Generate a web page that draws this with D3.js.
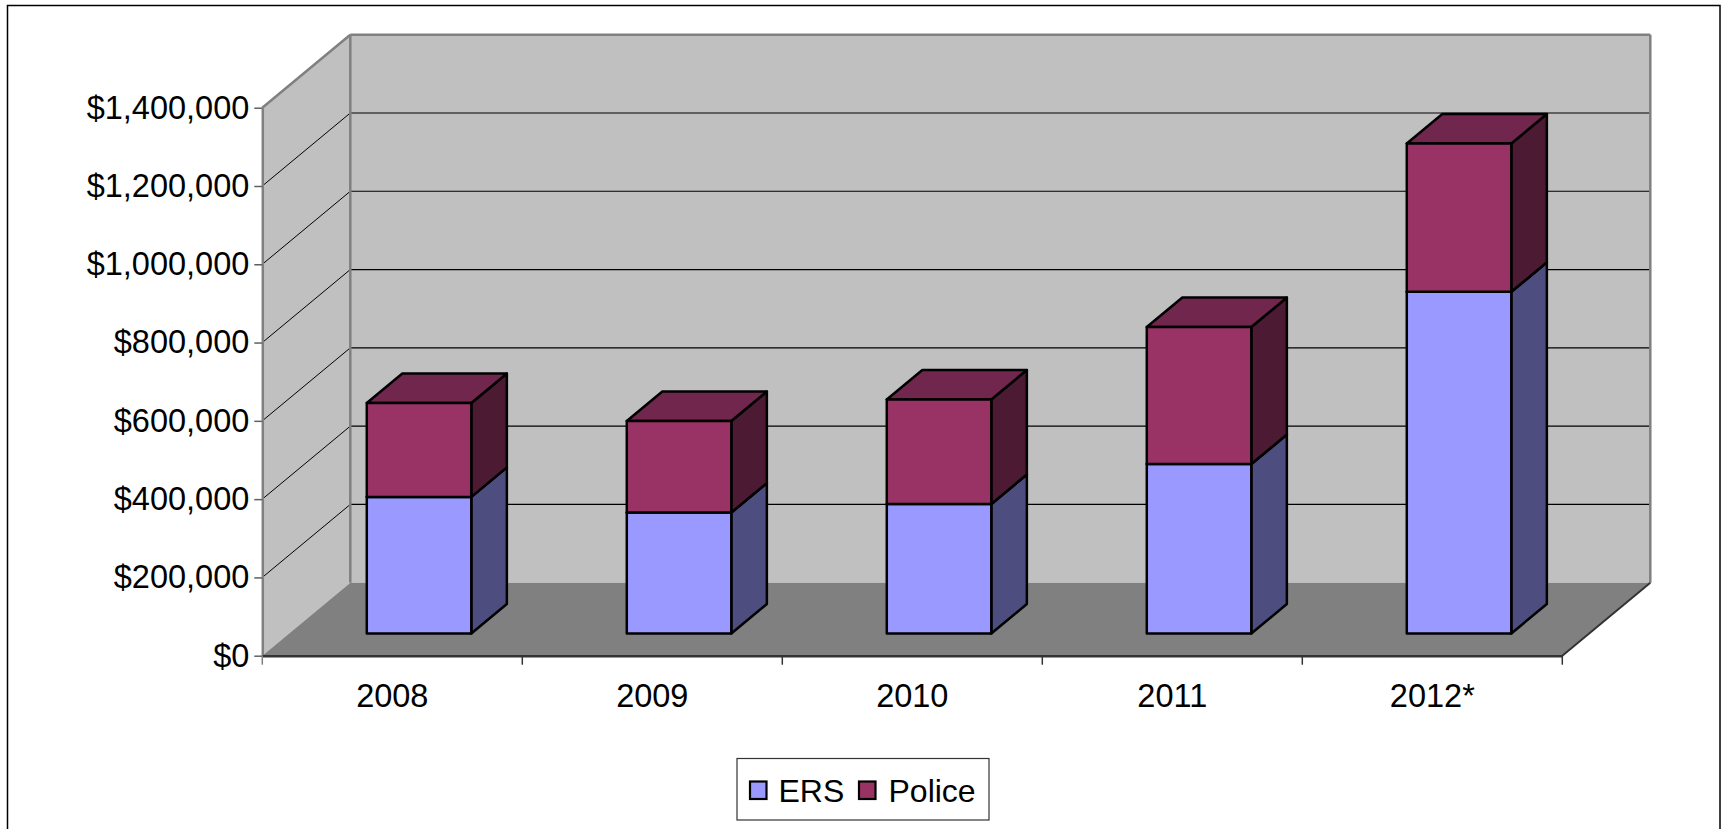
<!DOCTYPE html>
<html>
<head>
<meta charset="utf-8">
<script src="https://cdn.jsdelivr.net/npm/d3@7"></script>
<style>
  html, body { margin: 0; padding: 0; background: #ffffff; }
  svg { display: block; }
  text { font-family: "Liberation Sans", Arial, sans-serif; }
</style>
</head>
<body>
<script>
// ---- Data ----
const categories = ["2008", "2009", "2010", "2011", "2012*"];
const seriesNames = ["ERS", "Police"];
const ersValues = [349000, 309000, 331000, 433000, 873000];
const policeValues = [240000, 234000, 267000, 350000, 379000];
const yTickValues = [0, 200000, 400000, 600000, 800000, 1000000, 1200000, 1400000];

// ---- Layout ----
const W = 1727, H = 829;
const axisLeftX = 262.3, axisRightX = 1562.3;
const baseY = 655.7, topY = 107.7;
const DX = 88, DY = 73;           // depth of the 3D box
const zFront = 0.304, zBack = 0.708;
const barFrac = 0.402;
const axisFont = 32.5;
const legendFont = 32;

const frontColors = ["#9999FF", "#993366"];
const sideColors = ["#4D4D80", "#4D1A33"];
const topColors = ["#7373BF", "#70264D"];

const svg = d3.select("body").append("svg").attr("width", W).attr("height", H);

// outer border
svg.append("rect").attr("x", 7.5).attr("y", 5.5).attr("width", 1712.5).attr("height", 840)
  .attr("fill", "none").attr("stroke", "#000").attr("stroke-width", 1.5);

const x = d3.scaleBand().domain(categories).range([axisLeftX, axisRightX]);
const yMax = yTickValues[yTickValues.length - 1];
const y = d3.scaleLinear().domain([0, yMax]).range([baseY, topY]);
const proj = (px, v, z) => [px + z * DX, y(v) - z * DY];
const poly = pts => pts.map(p => p.join(",")).join(" ");

// walls
const L = axisLeftX, R = axisRightX;
svg.append("polygon")
  .attr("points", poly([proj(L, 0, 0), proj(L, yMax, 0), proj(L, yMax, 1), proj(L, 0, 1)]))
  .attr("fill", "#C0C0C0");
svg.append("polygon")
  .attr("points", poly([proj(L, 0, 1), proj(L, yMax, 1), proj(R, yMax, 1), proj(R, 0, 1)]))
  .attr("fill", "#C0C0C0");

// gridlines
const gridVals = yTickValues.filter(v => v > 0 && v < yMax);
svg.append("g").selectAll("line.back").data(gridVals).join("line")
  .attr("x1", d => proj(L, d, 1)[0]).attr("y1", d => proj(L, d, 1)[1])
  .attr("x2", d => proj(R, d, 1)[0]).attr("y2", d => proj(R, d, 1)[1])
  .attr("stroke", "#000").attr("stroke-width", 1.2);
svg.append("g").selectAll("line.side").data(gridVals).join("line")
  .attr("x1", d => proj(L, d, 0)[0]).attr("y1", d => proj(L, d, 0)[1])
  .attr("x2", d => proj(L, d, 1)[0]).attr("y2", d => proj(L, d, 1)[1])
  .attr("stroke", "#000").attr("stroke-width", 1);

// wall edges
const edge = (a, b, col, w) => svg.append("line")
  .attr("x1", a[0]).attr("y1", a[1]).attr("x2", b[0]).attr("y2", b[1])
  .attr("stroke", col).attr("stroke-width", w);
edge(proj(L, yMax, 0), proj(L, yMax, 1), "#808080", 2.5);
edge(proj(L, yMax, 1), proj(R, yMax, 1), "#808080", 2.5);
edge(proj(R, yMax, 1), proj(R, 0, 1), "#808080", 2.5);
edge(proj(L, yMax, 1), proj(L, 0, 1), "#808080", 2.5);

// floor
svg.append("polygon")
  .attr("points", poly([proj(L, 0, 0), proj(R, 0, 0), proj(R, 0, 1), proj(L, 0, 1)]))
  .attr("fill", "#808080");
edge(proj(R, 0, 0), proj(R, 0, 1), "#333", 2);

// bars
const bw = x.bandwidth();
const w = bw * barFrac;
const barsG = svg.append("g");
categories.forEach((c, i) => {
  const segs = [
    { s: 0, v0: 0, v1: ersValues[i] },
    { s: 1, v0: ersValues[i], v1: ersValues[i] + policeValues[i] }
  ];
  const xl = x(c) + (bw - w) / 2, xr = xl + w;
  segs.forEach(sg => {
    const g = barsG.append("g")
      .attr("stroke", "#000").attr("stroke-width", 2.5).attr("stroke-linejoin", "round");
    g.append("polygon").attr("fill", sideColors[sg.s])
      .attr("points", poly([proj(xr, sg.v0, zFront), proj(xr, sg.v0, zBack), proj(xr, sg.v1, zBack), proj(xr, sg.v1, zFront)]));
    g.append("polygon").attr("fill", topColors[sg.s])
      .attr("points", poly([proj(xl, sg.v1, zFront), proj(xr, sg.v1, zFront), proj(xr, sg.v1, zBack), proj(xl, sg.v1, zBack)]));
    g.append("polygon").attr("fill", frontColors[sg.s])
      .attr("points", poly([proj(xl, sg.v0, zFront), proj(xr, sg.v0, zFront), proj(xr, sg.v1, zFront), proj(xl, sg.v1, zFront)]));
  });
});

// y axis
const yAxis = svg.append("g").attr("transform", `translate(${axisLeftX},0)`)
  .call(d3.axisLeft(y).tickValues(yTickValues).tickFormat(d3.format("$,.0f")).tickSize(8).tickPadding(5).tickSizeOuter(0));
yAxis.select(".domain").attr("stroke", "#808080").attr("stroke-width", 2.5);
yAxis.selectAll(".tick line").attr("stroke", "#606060").attr("stroke-width", 1.5);
yAxis.selectAll(".tick text").attr("font-size", axisFont).attr("fill", "#000")
  .style("font-family", '"Liberation Sans", Arial, sans-serif');

// x axis
const xAxis = svg.append("g").attr("transform", `translate(0,${baseY})`)
  .call(d3.axisBottom(x).tickSize(0).tickPadding(28).tickSizeOuter(0));
xAxis.select(".domain").attr("stroke", "#333").attr("stroke-width", 2.5);
xAxis.selectAll(".tick text").attr("font-size", axisFont).attr("fill", "#000")
  .style("font-family", '"Liberation Sans", Arial, sans-serif');
const boundaries = [x(categories[0])].concat(categories.map(c => x(c) + bw));
svg.append("g").selectAll("line").data(boundaries).join("line")
  .attr("x1", d => d).attr("x2", d => d).attr("y1", baseY).attr("y2", baseY + 9)
  .attr("stroke", (d, i) => i === 0 ? "#808080" : "#333").attr("stroke-width", 1.5);

// legend
const lg = svg.append("g");
lg.append("rect").attr("x", 737).attr("y", 758.5).attr("width", 252).attr("height", 61.5)
  .attr("fill", "#fff").attr("stroke", "#333").attr("stroke-width", 1.2);
const legendX = [750, 859];
const legendTextX = [778.5, 888.5];
seriesNames.forEach((n, i) => {
  lg.append("rect").attr("x", legendX[i]).attr("y", 781.5).attr("width", 16.5).attr("height", 17.5)
    .attr("fill", frontColors[i]).attr("stroke", "#000").attr("stroke-width", 2.2);
  lg.append("text").attr("x", legendTextX[i]).attr("y", 801.5).attr("font-size", legendFont)
    .attr("fill", "#000").text(n);
});
</script>
</body>
</html>
